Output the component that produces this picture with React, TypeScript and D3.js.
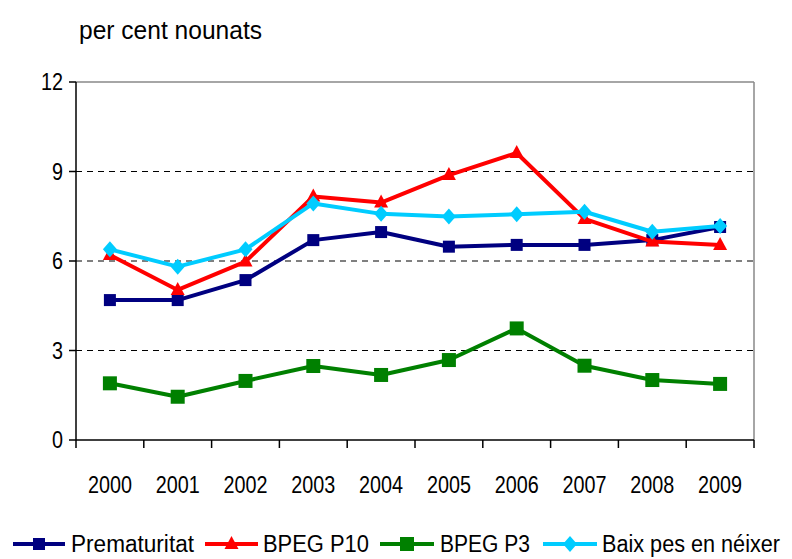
import React from "react";
import * as d3 from "d3";

const years = ["2000","2001","2002","2003","2004","2005","2006","2007","2008","2009"];
const prematuritat = [4.69,4.69,5.36,6.7,6.97,6.48,6.54,6.54,6.7,7.14];
const bpegP10 = [6.2,5.03,5.98,8.16,7.96,8.88,9.62,7.41,6.65,6.54];
const bpegP3 = [1.9,1.45,1.98,2.48,2.18,2.68,3.74,2.49,2.01,1.88];
const baixPes = [6.39,5.81,6.39,7.93,7.58,7.49,7.57,7.65,6.98,7.17];
const yTicks = [0,3,6,9,12];

const seriesNames = ["Prematuritat","BPEG P10","BPEG P3","Baix pes en néixer"];
const seriesColors = ["#000080","#FF0000","#008000","#00CCFF"];
const seriesMarkers = ["square","triangle","bigsquare","diamond"];
const seriesData = [prematuritat,bpegP10,bpegP3,baixPes];

const W = 792, H = 559;
const L = 76, R = 754, T = 82, B = 440;
const FONT = "'Liberation Sans', Arial, sans-serif";

function Marker({ type, x, y, color }: { type: string; x: number; y: number; color: string }) {
  if (type === "square") return <rect x={x-6} y={y-6} width={12} height={12} fill={color} />;
  if (type === "bigsquare") return <rect x={x-7} y={y-7} width={14} height={14} fill={color} />;
  if (type === "triangle") return <path d={`M${x},${y-8}L${x+7},${y+5}L${x-7},${y+5}Z`} fill={color} />;
  return <path d={`M${x},${y-8}L${x+7},${y}L${x},${y+8}L${x-7},${y}Z`} fill={color} />;
}

export default function App() {
  const x = d3.scaleBand<string>().domain(years).range([L, R]);
  const y = d3.scaleLinear().domain([0, 12]).range([B, T]);
  const cx = (yr: string) => (x(yr) as number) + x.bandwidth() / 2;
  const line = d3.line<number>().x((_, i) => cx(years[i])).y(d => y(d));
  const legendLine = [[13, 65], [205, 258], [380, 434], [543, 597]];
  const legendText = [[71, 123], [263, 106], [440, 90], [602, 178]];
  return (
    <svg width={W} height={H} style={{ position: "absolute", left: 0, top: 0, fontFamily: FONT }}>
      <rect x={0} y={0} width={W} height={H} fill="#fff" />
      <text x={79} y={39} fontSize={25} fill="#000" textLength={183} lengthAdjust="spacingAndGlyphs">per cent nounats</text>
      {yTicks.filter(t => t > 0 && t < 12).map(t => (
        <line key={t} x1={L} x2={R} y1={y(t)} y2={y(t)} stroke="#000" strokeDasharray="6,5" strokeWidth={1} />
      ))}
      <line x1={L} x2={R} y1={T} y2={T} stroke="#888" strokeWidth={1.5} />
      <line x1={R} x2={R} y1={T} y2={B} stroke="#888" strokeWidth={1.5} />
      <line x1={L} x2={L} y1={T} y2={B} stroke="#000" strokeWidth={1.5} />
      <line x1={L} x2={R} y1={B} y2={B} stroke="#000" strokeWidth={1.5} />
      {yTicks.map(t => (
        <g key={t}>
          <line x1={L-7} x2={L} y1={y(t)} y2={y(t)} stroke="#000" strokeWidth={1.5} />
          <text x={L-13} y={y(t)+8} fontSize={23} textAnchor="end" textLength={String(t).length * 11} lengthAdjust="spacingAndGlyphs">{t}</text>
        </g>
      ))}
      {years.map(yr => (
        <line key={"t"+yr} x1={x(yr) as number} x2={x(yr) as number} y1={B} y2={B+8} stroke="#000" strokeWidth={1.5} />
      ))}
      <line x1={R} x2={R} y1={B} y2={B+8} stroke="#000" strokeWidth={1.5} />
      {years.map(yr => (
        <text key={yr} x={cx(yr)} y={493} fontSize={23} textAnchor="middle" textLength={44} lengthAdjust="spacingAndGlyphs">{yr}</text>
      ))}
      {seriesData.map((d, si) => (
        <g key={si}>
          <path d={line(d) as string} fill="none" stroke={seriesColors[si]} strokeWidth={4} strokeLinejoin="round" />
          {d.map((v, i) => <Marker key={i} type={seriesMarkers[si]} x={cx(years[i])} y={y(v)} color={seriesColors[si]} />)}
        </g>
      ))}
      {seriesNames.map((n, si) => (
        <g key={n}>
          <line x1={legendLine[si][0]} x2={legendLine[si][1]} y1={544} y2={544} stroke={seriesColors[si]} strokeWidth={4} />
          <Marker type={seriesMarkers[si]} x={(legendLine[si][0] + legendLine[si][1]) / 2} y={544} color={seriesColors[si]} />
          <text x={legendText[si][0]} y={552} fontSize={23} textLength={legendText[si][1]} lengthAdjust="spacingAndGlyphs">{n}</text>
        </g>
      ))}
    </svg>
  );
}
